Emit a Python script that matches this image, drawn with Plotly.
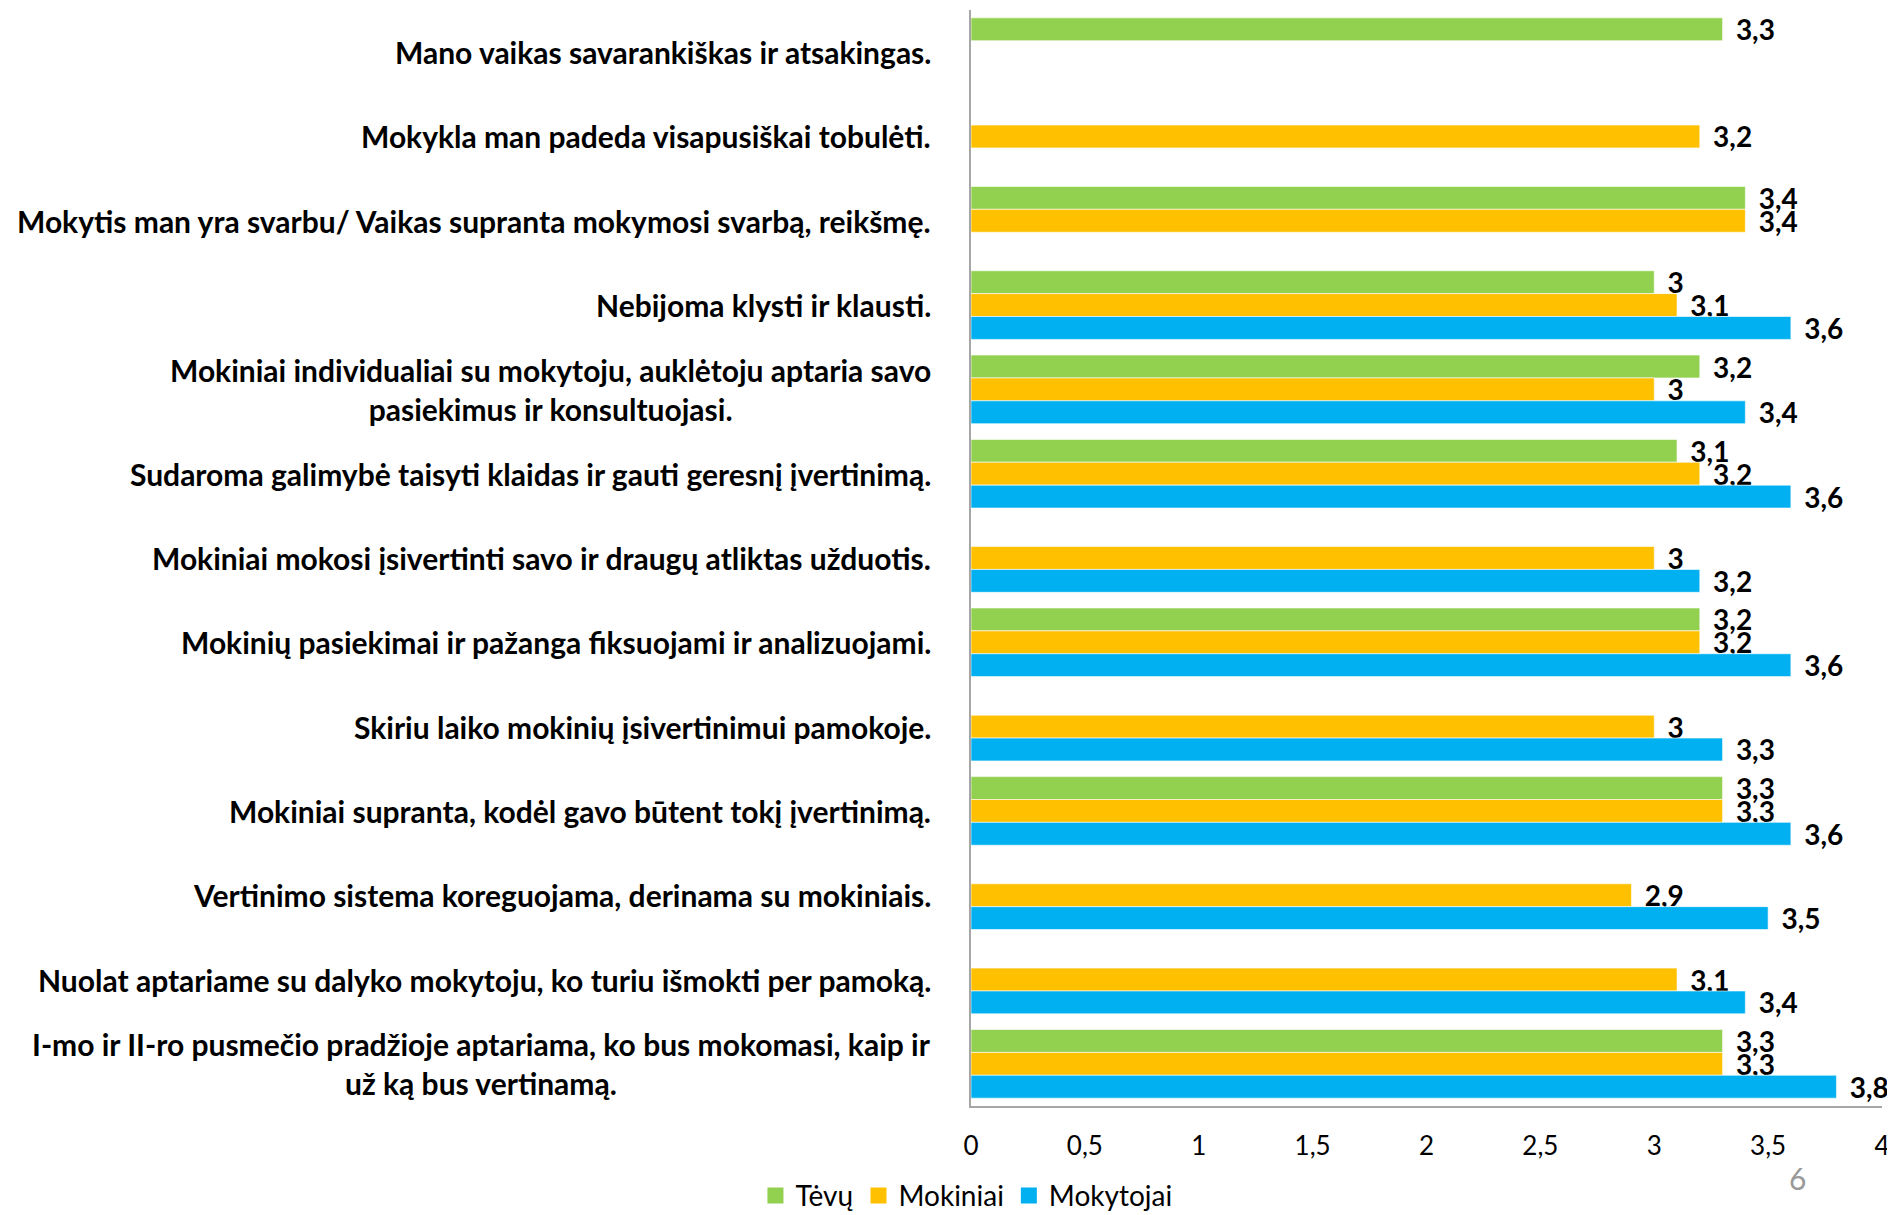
import plotly.graph_objects as go

categories = [
    "Mano vaikas savarankiškas ir atsakingas.",
    "Mokykla man padeda visapusiškai tobulėti.",
    "Mokytis man yra svarbu/ Vaikas supranta mokymosi svarbą, reikšmę.",
    "Nebijoma klysti ir klausti.",
    "Mokiniai individualiai su mokytoju, auklėtoju aptaria savo<br>pasiekimus ir konsultuojasi.",
    "Sudaroma galimybė taisyti klaidas ir gauti geresnį įvertinimą.",
    "Mokiniai mokosi įsivertinti savo ir draugų atliktas užduotis.",
    "Mokinių pasiekimai ir pažanga fiksuojami ir analizuojami.",
    "Skiriu laiko mokinių įsivertinimui pamokoje.",
    "Mokiniai supranta, kodėl gavo būtent tokį įvertinimą.",
    "Vertinimo sistema koreguojama, derinama su mokiniais.",
    "Nuolat aptariame su dalyko mokytoju, ko turiu išmokti per pamoką.",
    "I-mo ir II-ro pusmečio pradžioje aptariama, ko bus mokomasi, kaip ir<br>už ką bus vertinamą.",
]

tevu = [3.3, None, 3.4, 3.0, 3.2, 3.1, None, 3.2, None, 3.3, None, None, 3.3]
mokiniai = [None, 3.2, 3.4, 3.1, 3.0, 3.2, 3.0, 3.2, 3.0, 3.3, 2.9, 3.1, 3.3]
mokytojai = [None, None, None, 3.6, 3.4, 3.6, 3.2, 3.6, 3.3, 3.6, 3.5, 3.4, 3.8]

series_names = ["Tėvų", "Mokiniai", "Mokytojai"]
series_colors = ["#92D050", "#FFC000", "#00B0F0"]

tick_vals = [0, 0.5, 1, 1.5, 2, 2.5, 3, 3.5, 4]


def fmt(v):
    if v is None:
        return ""
    return " \u2009" + ("%g" % v).replace(".", ",")


FONT = "Lato"
fig = go.Figure()
ids = list(range(len(categories)))
for name, vals, col in zip(series_names, [tevu, mokiniai, mokytojai], series_colors):
    fig.add_trace(go.Bar(
        name=name,
        y=ids,
        x=vals,
        orientation="h",
        marker=dict(color=col, line=dict(color="rgba(255,255,255,0.6)", width=1)),
        text=[fmt(v) for v in vals],
        textposition="outside",
        constraintext="none",
        textfont=dict(family=FONT, size=28, color="black", weight="bold"),
        cliponaxis=False,
        showlegend=False,
    ))

# legend entries with larger square swatches
for name, col in zip(series_names, series_colors):
    fig.add_trace(go.Scatter(
        name=name, x=[None], y=[None], mode="markers",
        marker=dict(symbol="square", size=16, color=col),
        showlegend=True,
    ))

for i, cat in enumerate(categories):
    fig.add_annotation(
        x=0, y=i, xref="paper", yref="y",
        text="<b>" + cat + "</b>",
        xanchor="right", yanchor="middle", align="center",
        xshift=-38, showarrow=False,
        font=dict(family=FONT, size=30, color="black"),
    )

fig.add_annotation(
    x=0.907, y=-0.066, xref="paper", yref="paper",
    text="6", showarrow=False, xanchor="center", yanchor="middle",
    font=dict(family=FONT, size=30, color="#999999"),
)

# page body adds an 8px offset; the figure is sized so the plot lands at the right place
fig.update_layout(
    width=1887, height=1207,
    margin=dict(l=963, r=13, t=2, b=109, autoexpand=False),
    paper_bgcolor="white", plot_bgcolor="white",
    barmode="group", bargap=0.186, bargroupgap=0,
    separators=", ",
    showlegend=True,
    legend=dict(
        orientation="h", x=-0.005, xanchor="center", y=-0.082, yanchor="middle",
        font=dict(family=FONT, size=28, color="black"),
        itemwidth=30, traceorder="normal", itemsizing="trace",
    ),
    font=dict(family=FONT),
)
fig.update_xaxes(
    range=[0, 4], tickvals=tick_vals, tickformat=".1~f",
    showgrid=False, zeroline=False,
    showline=True, linecolor="#A6A6A6", linewidth=2,
    ticks="", tickfont=dict(family=FONT, size=26, color="black"),
    ticklabelstandoff=16,
)
fig.update_yaxes(
    autorange="reversed", showticklabels=False, showgrid=False, zeroline=False,
    showline=True, linecolor="#A6A6A6", linewidth=2, ticks="",
    range=[len(categories) - 0.5, -0.5],
)

fig.write_html("out.html")
